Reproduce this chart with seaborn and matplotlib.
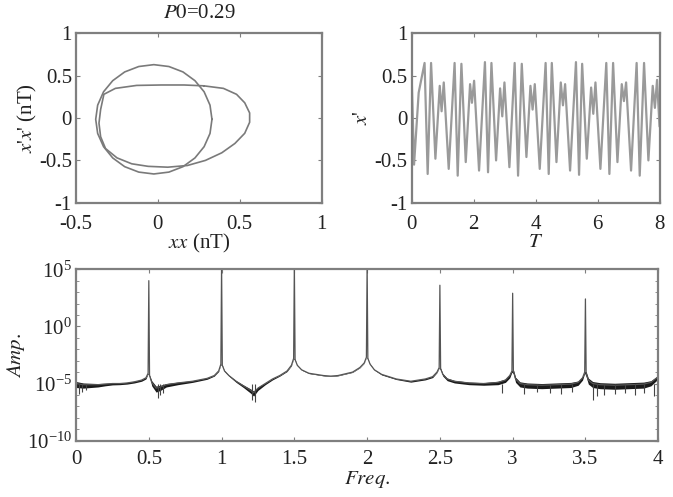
"""
Phase portrait, time series and amplitude spectrum for P0=0.29
"""

import numpy as np
import pandas as pd
import matplotlib
matplotlib.use('Agg')
import matplotlib.pyplot as plt
import seaborn as sns
from matplotlib.ticker import LogLocator, LogFormatterMathtext, FixedLocator, NullFormatter

# Phase portrait: loop 1 (near circle) and loop 2 (egg shaped)
loop1_x = [0.33, 0.318, 0.282, 0.226, 0.153, 0.067, -0.025, -0.117, -0.203, -0.276,
           -0.332, -0.368, -0.38, -0.368, -0.332, -0.276, -0.203, -0.117, -0.025,
           0.067, 0.153, 0.226, 0.282, 0.318, 0.33]
loop1_y = [-0.015, 0.152, 0.31, 0.441, 0.544, 0.608, 0.63, 0.608, 0.544, 0.441,
           0.31, 0.152, -0.015, -0.182, -0.338, -0.471, -0.574, -0.638, -0.66,
           -0.638, -0.574, -0.471, -0.338, -0.182, -0.015]
loop2_x = [0.28, 0.40, 0.48, 0.53, 0.56, 0.56, 0.53, 0.47, 0.39, 0.29, 0.18, 0.06,
           -0.06, -0.16, -0.25, -0.32, -0.35, -0.36, -0.35, -0.33, -0.26, -0.13,
           0.02, 0.16, 0.28]
loop2_y = [0.38, 0.35, 0.28, 0.18, 0.06, -0.05, -0.18, -0.30, -0.41, -0.50, -0.56,
           -0.58, -0.57, -0.54, -0.47, -0.36, -0.22, -0.06, 0.10, 0.28, 0.35, 0.385,
           0.39, 0.39, 0.38]

# Time series extrema (T, x')
ts_t = [0.00, 0.07, 0.22, 0.41, 0.51, 0.62, 0.76, 0.90, 0.96, 1.03, 1.19, 1.38, 1.48,
        1.60, 1.74, 1.88, 1.94, 2.01, 2.17, 2.36, 2.46, 2.57, 2.72, 2.85, 2.92, 2.99,
        3.15, 3.32, 3.43, 3.55, 3.70, 3.83, 3.90, 3.97, 4.13, 4.32, 4.42, 4.52, 4.67,
        4.81, 4.88, 4.95, 5.11, 5.30, 5.40, 5.50, 5.65, 5.79, 5.86, 5.93, 6.09, 6.28,
        6.38, 6.50, 6.64, 6.78, 6.85, 6.92, 7.08, 7.26, 7.36, 7.50, 7.64, 7.78, 7.85,
        7.92, 8.00]
ts_x = [0.40, -0.55, 0.30, 0.65, -0.66, 0.65, -0.48, 0.38, 0.08, 0.42, -0.60, 0.65,
        -0.68, 0.64, -0.52, 0.40, 0.18, 0.44, -0.62, 0.66, -0.64, 0.65, -0.50, 0.35,
        0.02, 0.42, -0.58, 0.65, -0.68, 0.64, -0.46, 0.38, 0.10, 0.40, -0.60, 0.65,
        -0.66, 0.65, -0.52, 0.42, 0.15, 0.40, -0.62, 0.66, -0.67, 0.64, -0.48, 0.36,
        0.05, 0.42, -0.60, 0.65, -0.66, 0.65, -0.52, 0.40, 0.20, 0.42, -0.62, 0.65,
        -0.68, 0.65, -0.50, 0.38, 0.12, 0.45, -0.10]

# Spectrum: log10 amplitude of the background and the spread of the noisy band
freq = [0.00, 0.05, 0.10, 0.15, 0.20, 0.25, 0.30, 0.35, 0.40, 0.45, 0.48, 0.495,
        0.505, 0.52, 0.55, 0.58, 0.62, 0.70, 0.80, 0.90, 0.95, 0.98, 0.995,
        1.005, 1.02, 1.05, 1.10, 1.15, 1.20, 1.22, 1.25, 1.30, 1.35, 1.40, 1.45, 1.48, 1.495,
        1.505, 1.52, 1.55, 1.60, 1.70, 1.75, 1.80, 1.90, 1.95, 1.98, 1.995,
        2.005, 2.02, 2.05, 2.10, 2.20, 2.30, 2.40, 2.45, 2.48, 2.495,
        2.505, 2.52, 2.55, 2.60, 2.70, 2.80, 2.90, 2.95, 2.98, 2.995,
        3.005, 3.02, 3.05, 3.10, 3.20, 3.30, 3.40, 3.45, 3.48, 3.495,
        3.505, 3.52, 3.55, 3.60, 3.70, 3.80, 3.90, 3.95, 4.00]
amp_log = [-5.0, -5.1, -5.1, -5.1, -5.05, -5.0, -5.0, -4.95, -4.85, -4.7, -4.5, -4.1,
           -4.3, -4.9, -5.4, -5.3, -5.1, -4.95, -4.8, -4.55, -4.3, -3.9, -3.3,
           -3.4, -3.9, -4.3, -4.8, -5.2, -5.6, -5.8, -5.4, -5.0, -4.6, -4.3, -3.9, -3.4, -2.8,
           -2.9, -3.4, -3.8, -4.1, -4.3, -4.35, -4.3, -4.0, -3.6, -3.2, -2.7,
           -2.8, -3.3, -3.8, -4.2, -4.6, -4.8, -4.6, -4.4, -4.0, -3.6,
           -3.7, -4.2, -4.6, -4.8, -4.95, -5.0, -4.9, -4.7, -4.3, -3.9,
           -3.9, -4.6, -5.0, -5.1, -5.15, -5.1, -5.05, -4.9, -4.5, -4.0,
           -4.1, -4.7, -5.0, -5.1, -5.15, -5.1, -5.05, -4.9, -4.4]
band = [0.35, 0.3, 0.25, 0.2, 0.15, 0.12, 0.1, 0.1, 0.1, 0.1, 0.1, 0.05,
        0.1, 0.3, 0.35, 0.3, 0.2, 0.15, 0.1, 0.08, 0.05, 0.05, 0.05,
        0.05, 0.05, 0.05, 0.1, 0.15, 0.25, 0.3, 0.2, 0.1, 0.08, 0.05, 0.05, 0.05, 0.05,
        0.03, 0.03, 0.03, 0.03, 0.03, 0.03, 0.03, 0.03, 0.03, 0.03, 0.03,
        0.03, 0.03, 0.03, 0.05, 0.05, 0.08, 0.08, 0.08, 0.05, 0.05,
        0.1, 0.15, 0.15, 0.15, 0.15, 0.15, 0.2, 0.2, 0.2, 0.1,
        0.25, 0.3, 0.3, 0.3, 0.3, 0.3, 0.3, 0.25, 0.2, 0.1,
        0.3, 0.35, 0.35, 0.35, 0.35, 0.35, 0.35, 0.3, 0.2]
peak_freq = [0.5, 1.0, 1.5, 2.0, 2.5, 3.0, 3.5]
peak_log = [4.0, 5.5, 5.5, 5.5, 3.6, 2.9, 2.4]
spike_freq = [0.02, 0.04, 0.07, 0.56, 0.58, 0.60, 1.21, 1.23, 2.93, 3.08, 3.17, 3.26,
              3.33, 3.41, 3.55, 3.58, 3.63, 3.70, 3.77, 3.84, 3.90, 3.97]
spike_log = [-5.9, -5.7, -5.6, -6.3, -6.0, -5.8, -6.4, -6.6, -5.8, -5.9, -5.7, -5.8,
             -5.9, -5.7, -6.4, -6.1, -6.0, -5.9, -5.8, -6.0, -5.8, -6.1]

LINE = '#7a7a7a'
FRAME = '#7f7f7f'
TEXT = '#222222'
TICK_FS = 15
LABEL_FS = 15


def style_axes(ax, xpad=9):
    for s in ax.spines.values():
        s.set_color(FRAME)
        s.set_linewidth(1.6)
    ax.tick_params(direction='in', top=True, right=True, length=3, width=0.8,
                   color=FRAME, labelcolor=TEXT, labelsize=TICK_FS)
    ax.tick_params(axis='x', pad=xpad)
    ax.tick_params(axis='y', pad=3)
    ax.tick_params(which='minor', direction='in', top=True, right=True, length=2,
                   width=0.6, color=FRAME)


def main():
    sns.set_style('ticks')
    plt.rcParams['font.family'] = ['Liberation Serif', 'Times New Roman', 'STIXGeneral',
                                   'DejaVu Serif']
    plt.rcParams['mathtext.fontset'] = 'stix'

    fig = plt.figure(figsize=(6.73, 4.97), dpi=100)
    ax1 = fig.add_axes([0.113, 0.592, 0.365, 0.341])
    ax2 = fig.add_axes([0.612, 0.592, 0.368, 0.341])
    ax3 = fig.add_axes([0.113, 0.1133, 0.865, 0.345])

    # Phase portrait
    loops = pd.concat([
        pd.DataFrame({'x': loop1_x, 'y': loop1_y, 'loop': 1}),
        pd.DataFrame({'x': loop2_x, 'y': loop2_y, 'loop': 2}),
    ])
    for _, d in loops.groupby('loop'):
        sns.lineplot(data=d, x='x', y='y', sort=False, estimator=None, ax=ax1,
                     color=LINE, linewidth=1.2)
    ax1.set_xlim(-0.5, 1)
    ax1.set_ylim(-1, 1)
    ax1.set_xticks([-0.5, 0, 0.5, 1])
    ax1.set_xticklabels(['-0.5', '0', '0.5', '1'])
    ax1.set_yticks([-1, -0.5, 0, 0.5, 1])
    ax1.set_yticklabels(['-1', '-0.5', '0', '0.5', '1'])
    ax1.set_xlabel(r"$xx$ (nT)", fontsize=LABEL_FS, color=TEXT, labelpad=-2)
    ax1.set_ylabel(r"$x$'$x$' (nT)", fontsize=LABEL_FS, color=TEXT, labelpad=0)
    ax1.set_title(r"$P0$=0.29", fontsize=LABEL_FS, color=TEXT, pad=11)
    style_axes(ax1)

    # Time series
    ts = pd.DataFrame({'T': ts_t, 'x': ts_x})
    sns.lineplot(data=ts, x='T', y='x', sort=False, estimator=None, ax=ax2,
                 color='#9a9a9a', linewidth=1.6)
    ax2.set_xlim(0, 8)
    ax2.set_ylim(-1, 1)
    ax2.set_xticks([0, 2, 4, 6, 8])
    ax2.set_yticks([-1, -0.5, 0, 0.5, 1])
    ax2.set_yticklabels(['-1', '-0.5', '0', '0.5', '1'])
    ax2.set_xlabel(r"$T$", fontsize=LABEL_FS, color=TEXT, labelpad=-1)
    ax2.set_ylabel(r"$x$'", fontsize=LABEL_FS, color=TEXT, labelpad=2)
    style_axes(ax2)

    # Spectrum
    spec = pd.DataFrame({'f': freq, 'a': amp_log, 'w': band})
    peaks = pd.DataFrame({'f': peak_freq, 'a': peak_log, 'w': 0.0})
    full = pd.concat([spec, peaks]).sort_values('f')
    full['amp'] = 10.0 ** full['a']
    ax3.fill_between(spec['f'], 10.0 ** (spec['a'] - spec['w']),
                     10.0 ** (spec['a'] + 0.5 * spec['w']),
                     color='#1a1a1a', linewidth=0)
    sns.lineplot(data=full, x='f', y='amp', sort=False, estimator=None, ax=ax3,
                 color='#555555', linewidth=0.9)
    ax3.vlines(spike_freq, [10.0 ** -5] * len(spike_freq),
               [10.0 ** v for v in spike_log], color='#444444', linewidth=0.8)
    ax3.set_yscale('log')
    ax3.set_xlim(0, 4)
    ax3.set_ylim(1e-10, 1e5)
    ax3.yaxis.set_major_locator(FixedLocator([1e-10, 1e-5, 1e0, 1e5]))
    ax3.yaxis.set_major_formatter(LogFormatterMathtext())
    ax3.yaxis.set_minor_locator(LogLocator(base=10, subs=(1.0,), numticks=30))
    ax3.yaxis.set_minor_formatter(NullFormatter())
    ax3.set_xticks([0, 0.5, 1, 1.5, 2, 2.5, 3, 3.5, 4])
    ax3.set_xticklabels(['0', '0.5', '1', '1.5', '2', '2.5', '3', '3.5', '4'])
    ax3.set_xlabel(r"$Freq.$", fontsize=LABEL_FS, color=TEXT, labelpad=0)
    ax3.set_ylabel(r"$Amp.$", fontsize=LABEL_FS, color=TEXT, labelpad=0)
    style_axes(ax3, xpad=7)

    fig.savefig('out.png', dpi=100)
    plt.close(fig)


if __name__ == '__main__':
    main()
